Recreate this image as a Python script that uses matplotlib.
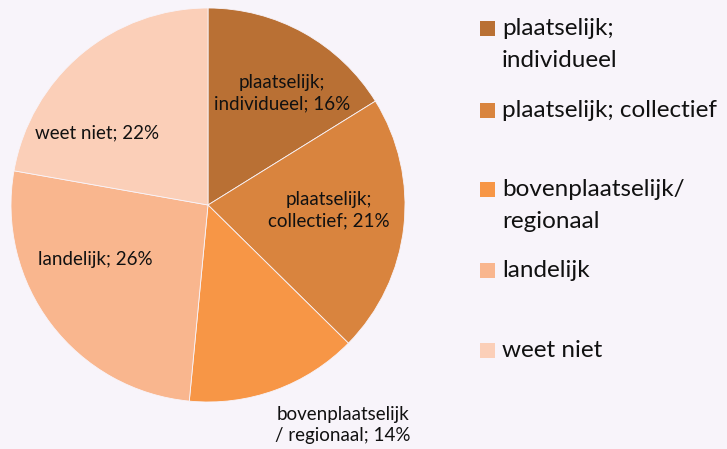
import matplotlib.pyplot as plt
from matplotlib.patches import Rectangle

plt.rcParams['font.family'] = ['Lato', 'DejaVu Sans']

# ---- data ----
categories = ["plaatselijk;\nindividueel", "plaatselijk; collectief",
              "bovenplaatselijk/\nregionaal", "landelijk", "weet niet"]
slice_labels = ["plaatselijk;\nindividueel; 16%", "plaatselijk;\ncollectief; 21%",
                "bovenplaatselijk\n/ regionaal; 14%", "landelijk; 26%", "weet niet; 22%"]
values = [16, 21, 14, 26, 22]
colors = ["#B97034", "#D9843E", "#F79646", "#F9B68E", "#FBCFB8"]

BG = "#F8F4FA"
W, H = 727, 449

# label centres in pixels (x, y from top)
label_pos = [(282, 93), (329, 210), (343, 425), (95, 259), (97, 133)]
# legend row centres (y of the square, from top)
legend_y = [28, 110, 189, 270, 350]
LINE_STEP = 32  # px between legend text lines

fig = plt.figure(figsize=(W / 100, H / 100), dpi=100, facecolor=BG)

cx, cy, r = 208, 205, 197
ax = fig.add_axes([(cx - r) / W, (H - cy - r) / H, 2 * r / W, 2 * r / H])
ax.set_facecolor(BG)
ax.pie(values, colors=colors, startangle=90, counterclock=False, radius=1,
       wedgeprops=dict(linewidth=0.6, edgecolor=BG))
ax.set_xlim(-1, 1)
ax.set_ylim(-1, 1)
ax.axis("off")

for txt, (px, py) in zip(slice_labels, label_pos):
    fig.text(px / W, 1 - py / H, txt, ha="center", va="center",
             fontsize=13.5, color="#111111", linespacing=1.3)

# legend drawn by hand (uneven spacing in the original)
for cat, col, ly in zip(categories, colors, legend_y):
    fig.patches.append(Rectangle((480 / W, 1 - (ly + 7.5) / H), 15 / W, 15 / H,
                                 transform=fig.transFigure, facecolor=col,
                                 edgecolor="none"))
    for i, line in enumerate(cat.split("\n")):
        fig.text(502 / W, 1 - (ly + 7 + i * LINE_STEP) / H, line, ha="left",
                 va="baseline", fontsize=17.5, color="#111111")

fig.savefig("out.png", dpi=100, facecolor=BG)
